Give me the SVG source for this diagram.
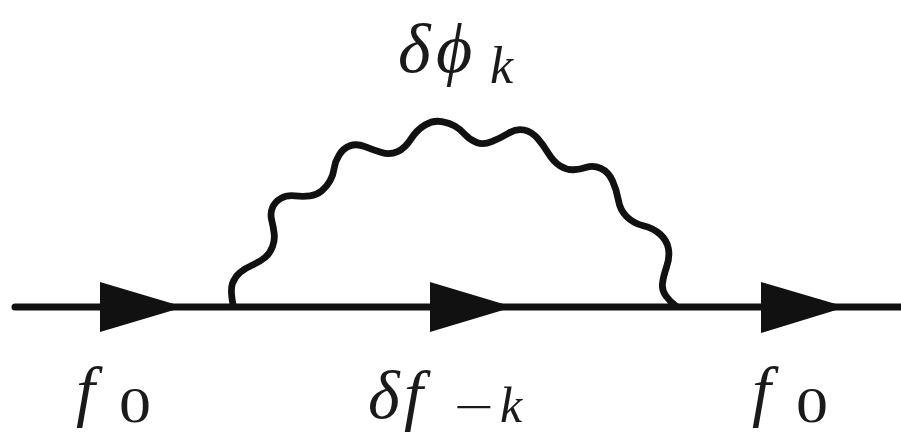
<svg xmlns="http://www.w3.org/2000/svg" width="901" height="433" viewBox="0 0 901 433">
<style>
.ln{fill:none;stroke:#111;stroke-width:7;stroke-linecap:round}
.wv{fill:none;stroke:#111;stroke-width:6.8;stroke-linecap:round;stroke-linejoin:round}
.ah{fill:#111;stroke:none}
.lbl{font-family:'Liberation Serif','DejaVu Serif',serif;fill:#1a1a1a}
.it{font-style:italic}
</style>
<rect width="901" height="433" fill="#fff"/>
<g id="connectors">
<line class="ln" x1="15" y1="307" x2="905" y2="307"/>
<path class="wv" d="M233.3,306 Q230,290 232.5,283.35 Q235,276.7 240,272.5 Q245,268.3 252.5,265 Q260,261.7 265,257.5 Q270,253.3 272.5,246.65 Q275,240 274.15,233.35 Q273.3,226.7 271.65,220 Q270,213.3 272.5,207.5 Q275,201.7 280.85,198.35 Q286.7,195 295,195.85 Q303.3,196.7 310,195.85 Q316.7,195 321.7,190.85 Q326.7,186.7 330,180.85 Q333.3,175 334.15,168.35 Q335,161.7 339.15,155 Q343.3,148.3 350,145.8 Q356.7,143.3 365,146.65 Q373.3,150 381.65,152.5 Q390,155 397.5,151.65 Q405,148.3 410.85,139.15 Q416.7,130 425,125 Q433.3,120 441.65,121.65 Q450,123.3 455,126.15 Q460,129 465,134.5 Q470,140 476.65,142.5 Q483.3,145 491.65,141.65 Q500,138.3 508.35,133.3 Q516.7,128.3 524.2,130 Q531.7,131.7 537.5,138.35 Q543.3,145 548.3,153.35 Q553.3,161.7 560,165.85 Q566.7,170 573.35,169.75 Q580,169.5 586.65,167.25 Q593.3,165 600.8,168.35 Q608.3,171.7 612.5,180.85 Q616.7,190 618.35,200 Q620,210 626.65,216.65 Q633.3,223.3 643.3,225.8 Q653.3,228.3 660,234.15 Q666.7,240 668.35,248.35 Q670,256.7 666.65,266.7 Q663.3,276.7 662.5,283.35 Q661.7,290 665.85,295.85 Q670,301.7 676,306"/>
<polygon class="ah" points="100,282 100,332 184,307"/>
<polygon class="ah" points="430,282 430,332 513,307"/>
<polygon class="ah" points="761,282 761,333 846,307"/>
</g>
<g id="label-phi" class="lbl">
<text class="it" x="398" y="72" font-size="70">δ</text>
<text class="it" x="436" y="72" font-size="70">ϕ</text>
<text class="it" x="490" y="83" font-size="52">k</text>
</g>
<g id="label-f0-left" class="lbl">
<text class="it" x="76" y="414" font-size="68">f</text>
<text x="119" y="422" font-size="50" textLength="32" lengthAdjust="spacingAndGlyphs">0</text>
</g>
<g id="label-df" class="lbl">
<text class="it" x="368" y="418" font-size="68">δ</text>
<text class="it" x="404" y="418" font-size="68">f</text>
<text x="454" y="422" font-size="44" textLength="40" lengthAdjust="spacingAndGlyphs">−</text>
<text class="it" x="500" y="422" font-size="50">k</text>
</g>
<g id="label-f0-right" class="lbl">
<text class="it" x="752" y="414" font-size="68">f</text>
<text x="796" y="422" font-size="50" textLength="32" lengthAdjust="spacingAndGlyphs">0</text>
</g>
</svg>
